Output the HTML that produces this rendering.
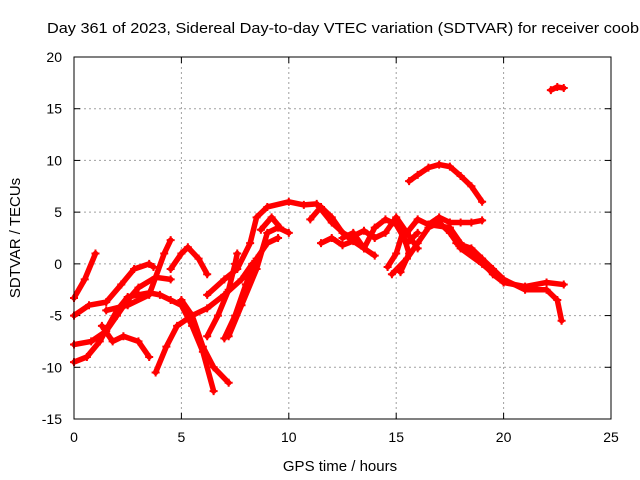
<!DOCTYPE html>
<html><head><meta charset="utf-8"><style>
html,body{margin:0;padding:0;background:#fff;}
svg{display:block;font-family:"Liberation Sans",sans-serif;}
</style></head><body>
<svg id="chart" width="640" height="480">
<text x="47" y="33" font-size="15" textLength="592" lengthAdjust="spacingAndGlyphs">Day 361 of 2023, Sidereal Day-to-day VTEC variation (SDTVAR) for receiver coob</text>
<text x="340" y="471" font-size="15" text-anchor="middle">GPS time / hours</text>
<text transform="translate(20,238) rotate(-90)" font-size="15" text-anchor="middle">SDTVAR / TECUs</text>
<g id="grid"></g>
<g id="ticks"></g>
<g id="series"></g>
<rect x="74" y="57" width="537" height="362" fill="none" stroke="#000" stroke-width="1"/>
</svg>
<script>
const xTicks=[0,5,10,15,20,25];
const yTicks=[-15,-10,-5,0,5,10,15,20];
const tracks=[
[[0,-3.3],[0.5,-1.5],[1,1]],
[[0,-5],[0.7,-4],[1.5,-3.7],[2.2,-2],[2.8,-0.5],[3.5,0],[3.7,-0.3]],
[[0,-7.8],[0.8,-7.5],[1.5,-6.5],[2,-5],[2.5,-3.5],[3,-2.3],[3.8,-1.3],[4.5,-1.5]],
[[0,-9.5],[0.6,-9],[1.2,-7.5],[1.6,-6],[2,-4.5],[2.5,-3.2],[3,-3],[3.5,-2.8],[4,-3],[4.5,-3.5],[5,-4],[5.5,-6],[6,-8.5],[6.5,-12.3]],
[[1.3,-6],[1.8,-7.5],[2.3,-7],[3,-7.5],[3.5,-9]],
[[1.5,-4.5],[2.5,-4],[3.5,-3],[4.2,1],[4.5,2.3]],
[[3.8,-10.5],[4.3,-8],[4.8,-6],[5.5,-5],[6.2,-4.3],[7,-3],[7.8,-1.5],[8.3,0]],
[[4.5,-0.5],[5,1],[5.3,1.6],[5.8,0.5],[6.2,-1]],
[[5,-3.5],[5.5,-5],[6,-8],[6.5,-10],[7.2,-11.5]],
[[6.2,-7],[6.7,-5],[7.2,-2.5],[7.5,0],[7.6,1]],
[[6.2,-3],[7,-1.5],[7.6,-0.5],[8.2,2],[8.5,4.5],[9,5.5],[10,6],[10.7,5.7],[11.3,5.8],[12,4],[12.8,2.5],[13.5,3.2],[14,2.5],[14.5,3],[15,4.5],[15.5,3],[16,1.5]],
[[7,-7.2],[7.5,-5],[8,-2],[8.5,0.5],[9,2],[9.5,2.5]],
[[7.2,-7],[7.8,-4],[8.5,-0.5],[9,3],[9.5,3.5],[10,3]],
[[8.7,3.3],[9.2,4.5],[9.6,3.5]],
[[11,4.3],[11.5,5.5],[12,4.5],[12.5,3],[13,2.5]],
[[11.5,2],[12,2.5],[12.5,1.8],[13,2.2],[13.5,1.5],[14,0.8]],
[[12.5,2.5],[13,3],[13.5,1.5],[14,3.5],[14.5,4.3],[15,3.8],[15.5,2],[16,3]],
[[14.6,-0.3],[15,1],[15.3,3],[15.6,1],[15.2,-0.8]],
[[15.6,8],[16,8.6],[16.5,9.3],[17,9.6],[17.5,9.4],[18,8.5],[18.5,7.5],[19,6]],
[[14.8,-1],[15.5,0.5],[16,2],[16.5,3.5],[17,4],[17.5,3],[18,1.5],[19,0],[20,-1.8],[21,-2.2],[22,-1.8],[22.8,-2]],
[[15.5,3],[16,4.3],[16.5,3.8],[17,4.5],[17.5,4],[18,4],[18.5,4],[19,4.2]],
[[16.5,3.8],[17.5,3.5],[18,2],[18.5,1],[19,0.2],[19.5,-1],[20,-1.8]],
[[17.8,2],[18.5,1.5],[19,0.5],[19.5,-0.5],[20,-1.5],[21,-2.5],[22,-2.5],[22.5,-3.5],[22.7,-5.5]],
[[22.2,16.8],[22.5,17.1],[22.8,17]]
];
const NS="http://www.w3.org/2000/svg";
const X0=74,X1=611,Y0=419,Y1=57;
function sx(v){return X0+(v-0)/(25-0)*(X1-X0);}
function sy(v){return Y0-(v+15)/(35)*(Y0-Y1);}
const grid=document.getElementById('grid'),ticks=document.getElementById('ticks'),series=document.getElementById('series');
function mk(tag,attrs,parent){const e=document.createElementNS(NS,tag);for(const k in attrs)e.setAttribute(k,attrs[k]);parent.appendChild(e);return e;}
xTicks.forEach(t=>{
  const x=sx(t);
  if(t>0&&t<25){const g=mk('line',{x1:x,x2:x,y1:Y1,y2:Y0,stroke:'#a0a0a0','stroke-dasharray':'2,3'},grid);
  
  }
  mk('line',{x1:x,x2:x,y1:Y0,y2:Y0-6,stroke:'#000'},ticks);
  mk('line',{x1:x,x2:x,y1:Y1,y2:Y1+6,stroke:'#000'},ticks);
  const tx=mk('text',{x:x,y:Y0+23,'font-size':14,'text-anchor':'middle'},ticks);
  tx.textContent=t;
  
  
});
yTicks.forEach(t=>{
  const y=sy(t);
  if(t>-15&&t<20){const g=mk('line',{x1:X0,x2:X1,y1:y,y2:y,stroke:'#a0a0a0','stroke-dasharray':'2,3'},grid);
  
  }
  mk('line',{x1:X0,x2:X0+6,y1:y,y2:y,stroke:'#000'},ticks);
  mk('line',{x1:X1,x2:X1-6,y1:y,y2:y,stroke:'#000'},ticks);
  const tx=mk('text',{x:X0-12,y:y+5,'font-size':14,'text-anchor':'end'},ticks);
  tx.textContent=t;
  
  
});
tracks.forEach((tr,i)=>{
  const pl=mk('polyline',{points:tr.map(p=>sx(p[0])+','+sy(p[1])).join(' '),fill:'none',stroke:'#ff0000','stroke-width':5.5,'stroke-linejoin':'round','stroke-linecap':'round'},series);
  
  
  tr.forEach(p=>{
    const x=sx(p[0]),y=sy(p[1]);
    const m=mk('path',{d:`M${x-4},${y}H${x+4}M${x},${y-4}V${y+4}`,stroke:'#ff0000','stroke-width':2},series);
    
    
  });
});
</script>
</body></html>
